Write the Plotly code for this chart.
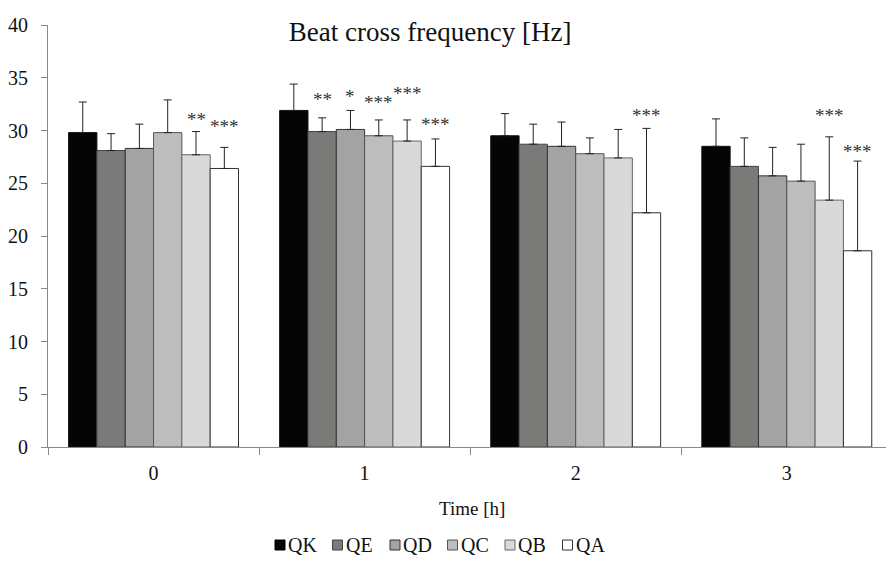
import plotly.graph_objects as go

times = ["0", "1", "2", "3"]
series = ["QK", "QE", "QD", "QC", "QB", "QA"]
means = {
    "QK": [29.8, 31.9, 29.5, 28.5],
    "QE": [28.1, 29.9, 28.7, 26.6],
    "QD": [28.3, 30.1, 28.5, 25.7],
    "QC": [29.8, 29.5, 27.8, 25.2],
    "QB": [27.7, 29.0, 27.4, 23.4],
    "QA": [26.4, 26.6, 22.2, 18.6],
}
errors = {
    "QK": [2.9, 2.5, 2.1, 2.6],
    "QE": [1.6, 1.3, 1.9, 2.7],
    "QD": [2.3, 1.8, 2.3, 2.7],
    "QC": [3.1, 1.5, 1.5, 3.5],
    "QB": [2.2, 2.0, 2.7, 6.0],
    "QA": [2.0, 2.6, 8.0, 8.5],
}
# significance marks: (series, time, label, label height)
stars = [
    ("QB", "0", "**", 31.3),
    ("QA", "0", "***", 30.7),
    ("QE", "1", "**", 33.2),
    ("QD", "1", "*", 33.5),
    ("QC", "1", "***", 32.9),
    ("QB", "1", "***", 33.8),
    ("QA", "1", "***", 30.9),
    ("QA", "2", "***", 31.7),
    ("QB", "3", "***", 31.75),
    ("QA", "3", "***", 28.25),
]
colors = ["#050505", "#7a7a78", "#a3a3a3", "#bdbdbd", "#d9d9d9", "#ffffff"]
lines = ["#111111", "#444444", "#333333", "#555555", "#666666", "#333333"]

FONT = "Liberation Serif"

fig = go.Figure()
for s, c, lc in zip(series, colors, lines):
    fig.add_trace(go.Bar(
        name=s, x=times, y=means[s], showlegend=False,
        marker=dict(color=c, line=dict(color=lc, width=1)),
        error_y=dict(type="data", array=errors[s], arrayminus=[0] * len(times),
                     symmetric=False, color="#222222", thickness=1, width=4),
    ))

n = len(series)
bargap = 0.195
bw = (1 - bargap) / n
for s, t, lab, yv in stars:
    i = series.index(s)
    off = -(1 - bargap) / 2 + bw * (i + 0.5)
    fig.add_annotation(
        x=times.index(t) + off, y=yv, xref="x", yref="y", yshift=-3,
        text=lab, showarrow=False, yanchor="middle",
        font=dict(family=FONT, size=19, color="#333333"),
    )

# plot-area pixel geometry for legend placement
L, T, W, H = 48, 25, 838, 422
def px(xp):
    return (xp - L) / W
def py(yp):
    return (T + H - yp) / H

fig.add_annotation(
    x=px(472), y=py(508), xref="paper", yref="paper", text="Time [h]",
    showarrow=False, yanchor="middle", xanchor="center",
    font=dict(family=FONT, size=19, color="#111111"),
)

# legend drawn as swatches + labels
x0, step, yc, sz = 275, 57.5, 545, 10
for i, (s, c, lc) in enumerate(zip(series, colors, lines)):
    xs = x0 + i * step
    fig.add_shape(type="rect", xref="paper", yref="paper",
                  x0=px(xs), x1=px(xs + sz), y0=py(yc + sz / 2), y1=py(yc - sz / 2),
                  fillcolor=c, line=dict(color=lc if i else "#000000", width=1))
    fig.add_annotation(x=px(xs + sz + 1), y=py(yc), xref="paper", yref="paper",
                       text=s, showarrow=False, xanchor="left", yanchor="middle",
                       font=dict(family=FONT, size=20, color="#111111"))

fig.update_layout(
    width=886, height=562,
    margin=dict(l=L, r=0, t=T, b=562 - T - H),
    paper_bgcolor="white", plot_bgcolor="white",
    barmode="group", bargap=bargap, bargroupgap=0,
    font=dict(family=FONT, size=19, color="#111111"),
    title=dict(text="Beat cross frequency [Hz]", x=0.456, xref="paper",
               y=1 - 32 / 562, yref="container", yanchor="middle", xanchor="center",
               font=dict(family=FONT, size=27, color="#111111")),
    showlegend=False,
    xaxis=dict(type="category", range=[-0.5, 3.47], showline=True, linecolor="#888888",
               linewidth=1, ticks="outside", tickson="boundaries", ticklen=7,
               tickcolor="#888888", showgrid=False, zeroline=False,
               ticklabelstandoff=8, tickfont=dict(family=FONT, size=20)),
    yaxis=dict(range=[0, 40], dtick=5, showline=True, linecolor="#888888", linewidth=1,
               ticks="outside", ticklen=6, tickcolor="#888888", showgrid=False,
               zeroline=False, ticklabelstandoff=9, tickfont=dict(family=FONT, size=20)),
)

fig.write_html("out.html")
